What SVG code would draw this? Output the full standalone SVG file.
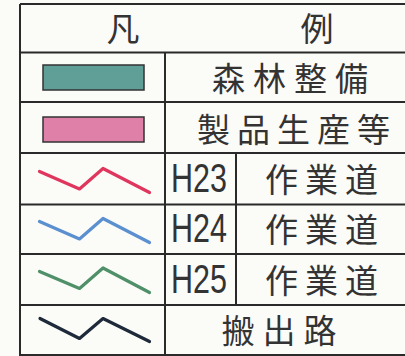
<svg xmlns="http://www.w3.org/2000/svg" width="405" height="356" viewBox="0 0 405 356">
<style>
.grid{stroke:#2a2a2a;stroke-width:2;fill:none}
.jp{font-family:"Noto Sans CJK JP","Noto Sans CJK SC",sans-serif;font-size:33px;fill:#333;text-anchor:middle}
.h{font-family:"Liberation Sans","DejaVu Sans",sans-serif;font-size:41px;fill:#333}
.zig{fill:none;stroke-width:3.2;stroke-linejoin:round;stroke-linecap:round}
</style>
<rect x="0" y="0" width="405" height="356" fill="#fbfbf8"/>
<g id="table">
<path class="grid" d="M20,4H406M20,4V355H406M20,52.5H406M20,102H406M20,153H406M20,204.5H406M20,254H406M20,305H406M165,52.5V355M236,153V305"/>
</g>
<g id="header">
<text class="jp" x="123" y="41" font-size="35">凡</text>
<text class="jp" x="317" y="41" font-size="35">例</text>
</g>
<g id="row-forest">
<rect x="43" y="65" width="101" height="25" fill="#609e98" stroke="#333" stroke-width="1.5"/>
<text class="jp" x="294" y="91" letter-spacing="8">森林整備</text>
</g>
<g id="row-product">
<rect x="43" y="117" width="101" height="25" fill="#df80a8" stroke="#333" stroke-width="1.5"/>
<text class="jp" x="297" y="142" letter-spacing="7">製品生産等</text>
</g>
<g id="row-h23">
<text class="h" x="171" y="192" textLength="56" lengthAdjust="spacingAndGlyphs">H23</text>
<text class="jp" x="325" y="192" letter-spacing="7">作業道</text>
</g>
<g id="row-h24">
<text class="h" x="171" y="242" textLength="56" lengthAdjust="spacingAndGlyphs">H24</text>
<text class="jp" x="325" y="242" letter-spacing="7">作業道</text>
</g>
<g id="row-h25">
<text class="h" x="171" y="293" textLength="56" lengthAdjust="spacingAndGlyphs">H25</text>
<text class="jp" x="325" y="293" letter-spacing="7">作業道</text>
</g>
<g id="row-road">
<text class="jp" x="283" y="343" letter-spacing="8">搬出路</text>
</g>
<g id="connectors">
<polyline class="zig" stroke="#e0365e" points="39.5,171.5 79.5,189 103,168.5 149.5,192.5"/>
<polyline class="zig" stroke="#5a8fd0" points="39.5,221.5 79.5,239 103,218.5 149.5,242.5"/>
<polyline class="zig" stroke="#4f9068" points="39.5,271.5 79.5,288.5 103,268 149.5,292.5"/>
<polyline class="zig" stroke="#1e2a3a" stroke-width="1.8" points="40,318.5 79.5,338.5 103,318.5 149.5,341.5"/>
</g>
</svg>
